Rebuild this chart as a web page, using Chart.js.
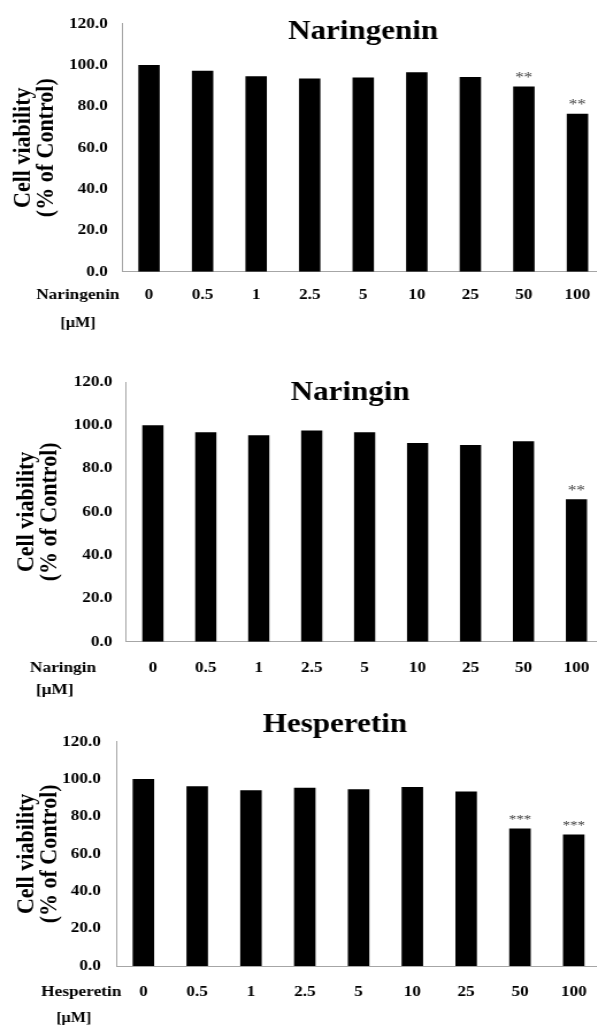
<!DOCTYPE html>
<html>
<head>
<meta charset="utf-8">
<script src="https://cdn.jsdelivr.net/npm/chart.js@4"></script>
<style>
  html, body { margin: 0; padding: 0; background: #fff; width: 597px; height: 1026px; overflow: hidden; }
  .panel { position: absolute; left: 0; transform: scaleX(1.15); transform-origin: 0 0; }
  canvas { display: block; }
</style>
</head>
<body>
<div class="panel" style="top:0px"><canvas id="c1" width="530" height="340" style="width:530px;height:340px"></canvas></div>
<div class="panel" style="top:340px"><canvas id="c2" width="530" height="360" style="width:530px;height:360px"></canvas></div>
<div class="panel" style="top:700px"><canvas id="c3" width="530" height="326" style="width:530px;height:326px"></canvas></div>
<script>
// Concentrations tested (µM)
const doses = ['0', '0.5', '1', '2.5', '5', '10', '25', '50', '100'];

// Cell viability, % of control
const naringeninViability = [100, 97.2, 94.6, 93.5, 94.0, 96.5, 94.2, 89.6, 76.4];
const naringinViability   = [100, 96.8, 95.4, 97.6, 96.8, 91.8, 90.9, 92.6, 65.8];
const hesperetinViability = [100, 96.1, 94.0, 95.3, 94.5, 95.7, 93.4, 73.6, 70.4];

// Significance vs. control
const naringeninMarks = ['', '', '', '', '', '', '', '**', '**'];
const naringinMarks   = ['', '', '', '', '', '', '', '', '**'];
const hesperetinMarks = ['', '', '', '', '', '', '', '***', '***'];

// Y axis range and step
const yMin = 0, yMax = 120, yStep = 20;
const yTitle = ['Cell viability', '(% of Control)'];
const unitLabel = '[\u03BCM]';

const SERIF = "'Liberation Serif', 'Times New Roman', serif";
const AXIS_GREY = '#a6a6a6';

// Draws the panel heading, the compound/unit labels left of the x ticks,
// and the significance stars above the bars.
const panelText = {
  id: 'panelText',
  afterDraw(chart, args, o) {
    const { ctx, chartArea: a } = chart;
    ctx.save();
    ctx.fillStyle = '#000';
    ctx.textAlign = 'center';
    ctx.textBaseline = 'middle';
    ctx.font = `bold 27px ${SERIF}`;
    ctx.fillText(o.title, (a.left + a.right) / 2 + o.titleDx, a.top + o.titleDy);
    ctx.font = `bold 15px ${SERIF}`;
    ctx.fillText(o.compound, o.compoundX, a.bottom + o.compoundDy);
    ctx.font = `bold ${o.unitSize}px ${SERIF}`;
    ctx.fillText(unitLabel, o.unitX, a.bottom + o.unitDy);
    ctx.font = `${o.markSize}px ${SERIF}`;
    ctx.fillStyle = '#444';
    chart.getDatasetMeta(0).data.forEach((bar, i) => {
      const m = o.marks[i];
      if (m) ctx.fillText(m, bar.x, bar.y - o.markGap);
    });
    ctx.restore();
  }
};

function makePanel(id, values, marks, cfg) {
  return new Chart(document.getElementById(id), {
    type: 'bar',
    data: {
      labels: doses,
      datasets: [{
        data: values,
        backgroundColor: '#000',
        borderWidth: 0,
        barPercentage: 0.4,
        categoryPercentage: 1.0
      }]
    },
    options: {
      responsive: false,
      devicePixelRatio: 1,
      animation: false,
      events: [],
      layout: { padding: { top: cfg.padTop, bottom: 0, left: 0, right: cfg.padRight } },
      plugins: {
        legend: { display: false },
        tooltip: { enabled: false },
        title: { display: false },
        panelText: {
          title: cfg.title, titleDx: cfg.titleDx, titleDy: cfg.titleDy,
          compound: cfg.title, compoundX: cfg.compoundX, compoundDy: cfg.compoundDy,
          unitX: cfg.unitX, unitDy: cfg.unitDy, unitSize: cfg.unitSize,
          marks: marks, markSize: cfg.markSize, markGap: cfg.markGap
        }
      },
      scales: {
        x: {
          grid: { display: false, drawTicks: false },
          border: { display: true, color: AXIS_GREY, width: 1 },
          ticks: {
            color: '#000',
            font: { family: SERIF, size: 15, weight: 'bold', lineHeight: 1.2 },
            padding: cfg.xPad, maxRotation: 0, autoSkip: false
          },
          afterFit(s) { s.height = cfg.xHeight; }
        },
        y: {
          min: yMin, max: yMax,
          grid: { display: false, drawTicks: false },
          border: { display: true, color: AXIS_GREY, width: 1 },
          ticks: {
            stepSize: yStep,
            color: '#000',
            font: { family: SERIF, size: 15, weight: 'bold' },
            padding: cfg.yPad,
            callback: v => Number(v).toFixed(1)
          },
          title: {
            display: true,
            text: yTitle,
            color: '#000',
            font: { family: SERIF, size: 22, weight: 'bold', lineHeight: 0.92 },
            padding: { top: cfg.yTitlePad, bottom: 0 }
          },
          afterFit(s) { s.width = cfg.yWidth; }
        }
      }
    },
    plugins: [panelText]
  });
}

makePanel('c1', naringeninViability, naringeninMarks, {
  title: 'Naringenin', titleDx: 0, titleDy: 8.3,
  padTop: 23.7, padRight: 4.6, yWidth: 106.3, xHeight: 68.3,
  xPad: 14.3, yPad: 12.6, yTitlePad: 10,
  compoundX: 67.7, compoundDy: 23.3, unitX: 67.8, unitDy: 51.3, unitSize: 14,
  markSize: 15, markGap: 8.5
});

makePanel('c2', naringinViability, naringinMarks, {
  title: 'Naringin', titleDx: -12.6, titleDy: 11.3,
  padTop: 42, padRight: 3.7, yWidth: 109.9, xHeight: 58.3,
  xPad: 17.3, yPad: 12.2, yTitlePad: 13,
  compoundX: 54.8, compoundDy: 26.3, unitX: 47.7, unitDy: 48.3, unitSize: 15,
  markSize: 15, markGap: 8.5
});

makePanel('c3', hesperetinViability, hesperetinMarks, {
  title: 'Hesperetin', titleDx: -20.5, titleDy: -16.7,
  padTop: 41.7, padRight: 7.7, yWidth: 101.3, xHeight: 60,
  xPad: 16.7, yPad: 13.5, yTitlePad: 13,
  compoundX: 70.7, compoundDy: 25.7, unitX: 64.2, unitDy: 52, unitSize: 14,
  markSize: 13, markGap: 8.5
});
</script>
</body>
</html>
